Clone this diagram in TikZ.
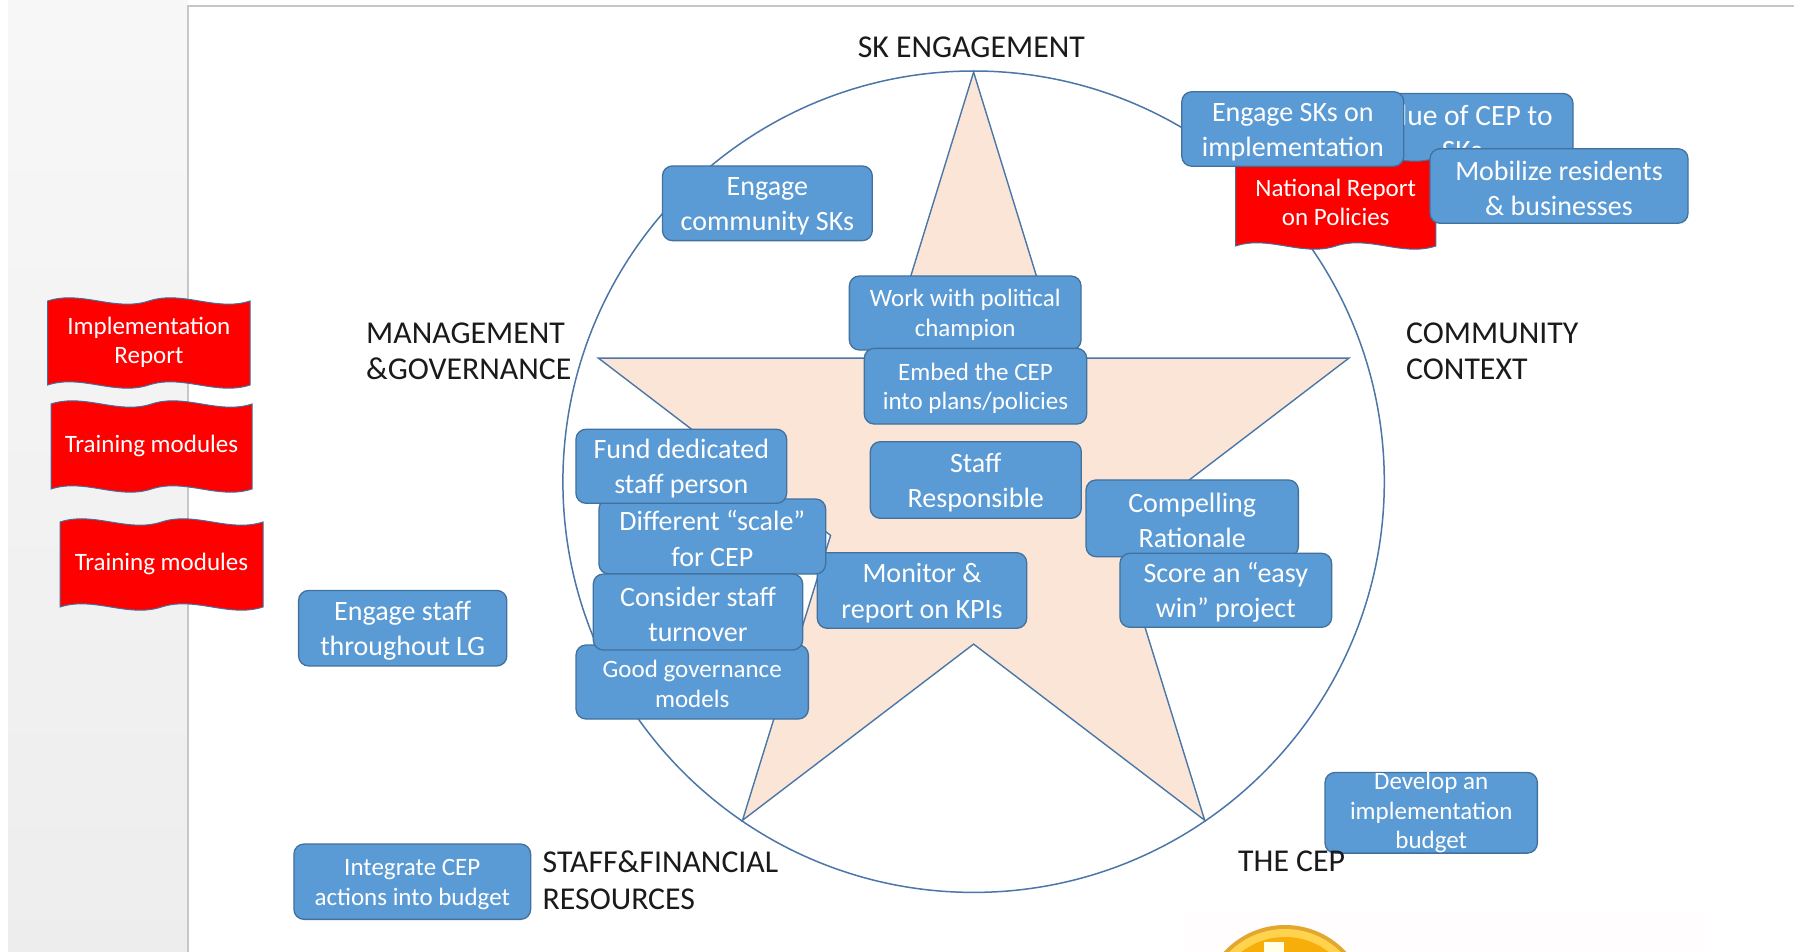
\documentclass[tikz,border=0pt]{standalone}
\usepackage{fontspec}
\setmainfont{Carlito}
\usetikzlibrary{calc}
\definecolor{boxblue}{HTML}{5B9BD5}
\definecolor{boxedge}{HTML}{41719C}
\definecolor{starfill}{HTML}{FBE5D6}
\definecolor{lineblue}{HTML}{4A76A8}
\definecolor{wavered}{HTML}{FF0000}
\definecolor{labelgray}{HTML}{1A1A1A}
\definecolor{coinrim}{HTML}{E3A72F}
\definecolor{coinring}{HTML}{FFD34E}
\definecolor{coinin}{HTML}{F8AE0A}
\newcommand\redwave[5]{%
  \filldraw[wavestyle] (#1,#2)
   .. controls ({#1+(#3-#1)/6},{#2-#5}) and ({#1+(#3-#1)/3},{#2+#5}) .. ({(#1+#3)/2},#2)
   .. controls ({#1+2*(#3-#1)/3},{#2-#5}) and ({#1+5*(#3-#1)/6},{#2+#5}) .. (#3,#2)
   -- (#3,#4)
   .. controls ({#1+5*(#3-#1)/6},{#4+#5}) and ({#1+2*(#3-#1)/3},{#4-#5}) .. ({(#1+#3)/2},#4)
   .. controls ({#1+(#3-#1)/3},{#4+#5}) and ({#1+(#3-#1)/6},{#4-#5}) .. (#1,#4)
   -- cycle;}
\newcommand\tp{\rule{0pt}{0.86em}}
\tikzset{
  bluebox/.style={rectangle, rounded corners=10pt, draw=boxedge, line width=1.3pt,
    fill=boxblue, text=white, align=center, inner sep=0pt,
    font=\fontsize{28}{35.5}\selectfont},
  smallbox/.style={bluebox, font=\fontsize{25}{29.5}\selectfont},
  sector/.style={text=labelgray, align=left, inner sep=0pt, anchor=west,
    font=\fontsize{31.8}{36.8}\selectfont},
  wavetext/.style={text=white, align=center, inner sep=0pt,
    font=\fontsize{25}{29.5}\selectfont},
  wavestyle/.style={fill=wavered, draw=boxedge, line width=1pt},
}
\begin{document}
\begin{tikzpicture}[x=1pt,y=-1pt]
\useasboundingbox (0,0) rectangle (1794,952);
% background
\fill[white] (0,0) rectangle (1794,952);
\shade[top color=white!97!black, bottom color=white!93!black] (8,0) rectangle (188,952);
\draw[black!22, line width=1.2pt] (188,952) -- (188,6) -- (1794,6);

% circle and star
\draw[lineblue, line width=1.5pt, fill=white] (973.6,481.7) circle[radius=410.7pt];
\coordinate (st-top) at (973.6,72.1);
\coordinate (st-ul) at (885.5,358.1);
\coordinate (st-left) at (598.4,358.1);
\coordinate (st-ll) at (830.6,535.4);
\coordinate (st-bl) at (742.5,820.3);
\coordinate (st-bot) at (973.6,644.1);
\coordinate (st-br) at (1204.7,820.3);
\coordinate (st-lr) at (1116.6,535.4);
\coordinate (st-right) at (1348.9,358.1);
\coordinate (st-ur) at (1061.7,358.1);
\filldraw[fill=starfill, draw=lineblue, line width=1.4pt, line join=miter]
  (st-top) -- (st-ul) -- (st-left) -- (st-ll) -- (st-bl) -- (st-bot)
  -- (st-br) -- (st-lr) -- (st-right) -- (st-ur) -- cycle;

% sector labels
\node[text=labelgray, inner sep=0pt, font=\fontsize{31.8}{36.8}\selectfont] (lab-sk) at (971.3,46.9) {SK ENGAGEMENT};
\node[sector] (lab-mg) at (366,351.2) {MANAGEMENT\\\&GOVERNANCE};
\node[sector] (lab-cc) at (1406,351.2) {COMMUNITY\\CONTEXT};
\node[sector] (lab-sf) at (542.5,880.4) {STAFF\&FINANCIAL\\RESOURCES};

% left red waves
\redwave{47.7}{301}{250}{385}{11}
\node[wavetext] (w-impl) at (148.9,342.5) {Implementation\\Report};
\redwave{51}{404}{252}{489}{11}
\node[wavetext] (w-train1) at (151.5,446) {Training modules};
\redwave{60}{522}{263}{607}{11}
\node[wavetext] (w-train2) at (161.5,564) {Training modules};

% blue boxes
\node[bluebox, minimum width=209.8pt, minimum height=74.7pt] (b-engcomm) at (767.4,203.3) {\tp Engage\\community SKs};
\node[smallbox, minimum width=231.7pt, minimum height=74pt] (b-work) at (965.2,313) {\tp Work with political\\champion};
\node[smallbox, minimum width=222.4pt, minimum height=75.7pt] (b-embed) at (975.5,386.2) {\tp Embed the CEP\\into plans/policies};
\node[bluebox, minimum width=211pt, minimum height=76.6pt] (b-staffresp) at (975.8,480) {\tp Staff\\Responsible};
\node[bluebox, minimum width=209.4pt, minimum height=75.6pt] (b-monitor) at (922,590.5) {\tp Monitor \&\\report on KPIs};
\node[smallbox, minimum width=232.3pt, minimum height=74pt] (b-goodgov) at (692.2,682) {\tp Good governance\\models};
\node[bluebox, minimum width=226.7pt, minimum height=75pt] (b-scale) at (712.3,536.5) {\tp Different “scale”\\for CEP};
\node[bluebox, minimum width=210.7pt, minimum height=74pt] (b-fund) at (681.3,466.3) {\tp Fund dedicated\\staff person};
\node[bluebox, minimum width=209.4pt, minimum height=76pt] (b-turnover) at (698,612) {\tp Consider staff\\turnover};
\node[bluebox, minimum width=212.3pt, minimum height=76.7pt] (b-compel) at (1192.2,518.3) {\tp Compelling\\Rationale};
\node[bluebox, minimum width=211.7pt, minimum height=74pt] (b-easy) at (1225.8,590.3) {\tp Score an “easy\\win” project};
\node[bluebox, minimum width=208.2pt, minimum height=75.5pt] (b-engstaff) at (402.7,628.2) {\tp Engage staff\\throughout LG};
\node[smallbox, minimum width=236.7pt, minimum height=75.3pt] (b-integrate) at (412.3,881.7) {\tp Integrate CEP\\actions into budget};
\node[smallbox, minimum width=212.3pt, minimum height=75.7pt] (b-develop) at (1431.2,812.8) {Develop an\\implementation\\budget};

% top right cluster
\node[bluebox, minimum width=222pt, minimum height=74pt, font=\fontsize{29.5}{35.5}\selectfont] (b-value) at (1462,130.5) {\tp Value of CEP to\\SKs};
\redwave{1235.6}{158}{1435.9}{246}{11}
\node[wavetext] (w-national) at (1335.7,202.5) {National Report\\on Policies};
\node[bluebox, minimum width=222pt, minimum height=74.5pt] (b-engsks) at (1292.8,129) {\tp Engage SKs on\\implementation};
\node[bluebox, minimum width=258pt, minimum height=74.5pt] (b-mobilize) at (1559,186) {\tp Mobilize residents\\\& businesses};

% THE CEP label
\node[sector] (lab-cep) at (1238,861.5) {THE CEP};

% faint picture at the bottom with a coin
\begin{scope}
\clip (0,0) rectangle (1794,952);
\fill[white!99.3!magenta] (1184,912) rectangle (1705,960);
\fill[coinrim] (1285,1008) circle[radius=83pt];
\fill[coinring] (1285,1008) circle[radius=79pt];
\fill[coinin] (1285,1008) circle[radius=71pt];
\fill[white!90!yellow] (1264,942) rectangle (1284,960);
\end{scope}
\end{tikzpicture}
\end{document}
